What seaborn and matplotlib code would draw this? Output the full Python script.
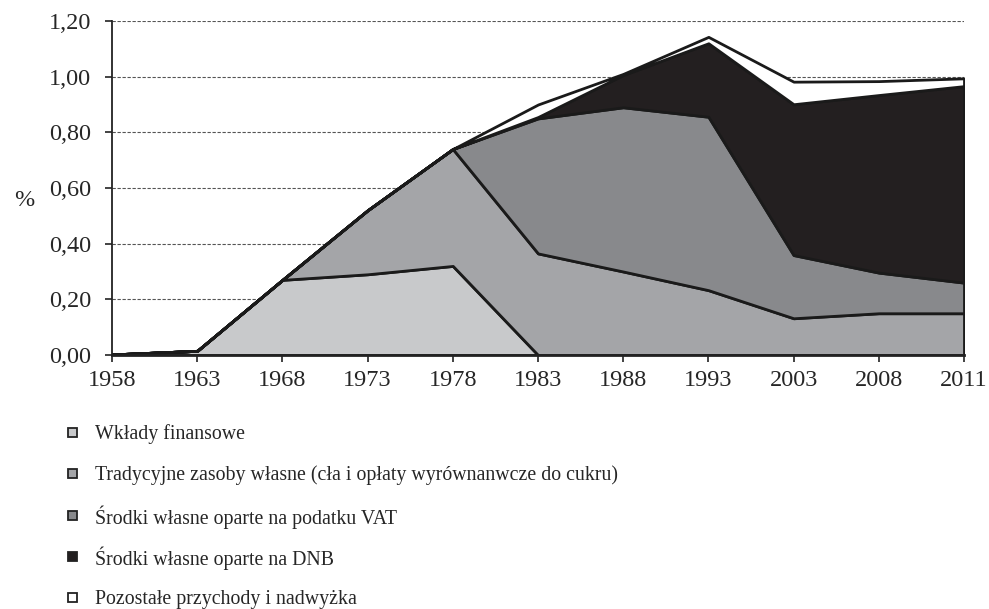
import matplotlib
matplotlib.use("Agg")
import matplotlib.pyplot as plt
from matplotlib.patches import Rectangle
import seaborn as sns
import numpy as np

years = ["1958", "1963", "1968", "1973", "1978", "1983", "1988", "1993", "2003", "2008", "2011"]
wklady = [0.002, 0.015, 0.27, 0.29, 0.32, 0.0, 0.0, 0.0, 0.0, 0.0, 0.0]
tradycyjne = [0.0, 0.0, 0.0, 0.23, 0.42, 0.365, 0.30, 0.233, 0.132, 0.15, 0.15]
vat = [0.0, 0.0, 0.0, 0.0, 0.0, 0.485, 0.59, 0.623, 0.227, 0.146, 0.11]
dnb = [0.0, 0.0, 0.0, 0.0, 0.0, 0.005, 0.116, 0.264, 0.542, 0.638, 0.706]
pozostale = [0.0, 0.0, 0.0, 0.0, 0.0, 0.045, 0.004, 0.023, 0.081, 0.05, 0.028]

labels = ["Wkłady finansowe",
          "Tradycyjne zasoby własne (cła i opłaty wyrównanwcze do cukru)",
          "Środki własne oparte na podatku VAT",
          "Środki własne oparte na DNB",
          "Pozostałe przychody i nadwyżka"]
colors = ["#c8c9cb", "#a4a5a8", "#88898c", "#231f20", "#ffffff"]

sns.set_style("white")
plt.rcParams["font.family"] = ["Liberation Serif", "DejaVu Serif"]

W, H = 989, 609
fig = plt.figure(figsize=(W / 100, H / 100), dpi=100)
ax = fig.add_axes([112 / W, 1 - 355 / H, 852 / W, 334 / H])

x = np.arange(len(years))
ax.stackplot(x, wklady, tradycyjne, vat, dnb, pozostale, colors=colors,
             edgecolor="#1a1a1a", linewidth=2.0, zorder=2)

ax.set_xlim(0, len(years) - 1)
ax.set_ylim(0, 1.2)
ax.set_xticks(x)
ax.set_xticklabels(years)
yt = np.arange(0, 1.21, 0.2)
ax.set_yticks(yt)
ax.set_yticklabels([f"{v:.2f}".replace(".", ",") for v in yt])
ax.tick_params(axis="both", labelsize=17.5, length=5, width=1.2, color="#222222",
               direction="out", bottom=True, left=True)
ax.tick_params(axis="y", pad=10)
ax.tick_params(axis="x", pad=6)

for v in yt[1:]:
    ax.axhline(v, color="#555555", lw=0.8, ls=(0, (3, 1.5)), zorder=1)

sns.despine(ax=ax, top=True, right=True)
ax.spines["left"].set_color("#222222")
ax.spines["left"].set_linewidth(1.3)
ax.spines["bottom"].set_color("#222222")
ax.spines["bottom"].set_linewidth(2)
ax.spines["bottom"].set_zorder(3)

fig.text(24 / W, 1 - 200 / H, "%", fontsize=17.5, ha="center", va="center")

# legend drawn by hand so the rows keep an even spacing
rows = [432, 473, 515, 556, 597]
for c, lab, ry in zip(colors, labels, rows):
    fig.add_artist(Rectangle(((72 - 4.5) / W, 1 - (ry + 4.5) / H), 9 / W, 9 / H,
                             transform=fig.transFigure, facecolor=c,
                             edgecolor="#222222", linewidth=1.3))
    fig.text(95 / W, 1 - ry / H, lab, fontsize=14.3, ha="left", va="center_baseline")

fig.savefig("out.png", dpi=100)
